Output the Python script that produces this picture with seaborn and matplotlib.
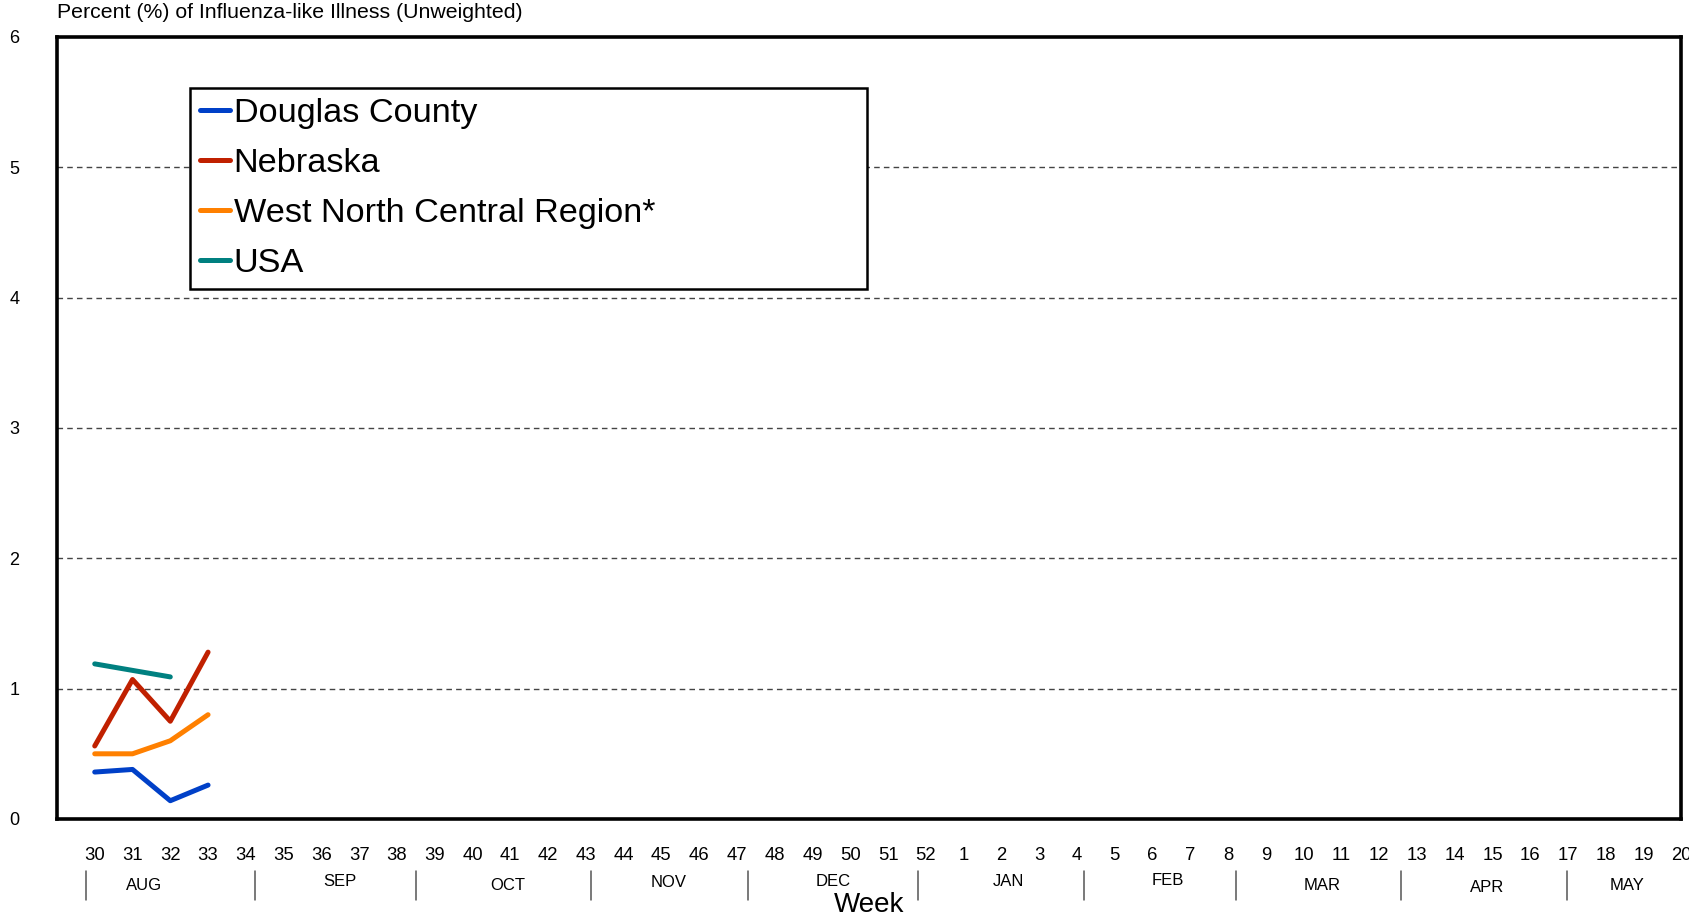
import numpy as np
import pandas as pd
import matplotlib
matplotlib.use("Agg")
import matplotlib.pyplot as plt
import matplotlib.transforms as mtransforms
from matplotlib.lines import Line2D
import seaborn as sns

# ---- data ----
weeks = [str(w) for w in list(range(30, 53)) + list(range(1, 21))]
data_weeks = ["30", "31", "32", "33"]
douglas = [0.36, 0.38, 0.14, 0.26]
nebraska = [0.56, 1.07, 0.75, 1.28]
wnc = [0.50, 0.50, 0.60, 0.80]
usa = [1.19, 1.14, 1.09, np.nan]
series_names = ["Douglas County", "Nebraska", "West North Central Region*", "USA"]
colors = ["#0040C8", "#C02000", "#FF8000", "#008080"]
months = ["AUG", "SEP", "OCT", "NOV", "DEC", "JAN", "FEB", "MAR", "APR", "MAY"]
yticks = [0, 1, 2, 3, 4, 5, 6]

# layout (positions of month labels / separators in week-index units)
month_label_x = [1.31, 6.49, 10.94, 15.2, 19.54, 24.2, 28.4, 32.5, 36.86, 40.57]
month_label_dy = [0.0, -4, 0.0, -3, -4, -4, -5, 0.0, 2, 0.0]
month_sep_x = [-0.23, 4.23, 8.5, 13.14, 17.3, 21.8, 26.2, 30.2, 34.57, 38.97]

sns.set_theme(style="white")
plt.rcParams["font.family"] = ["Liberation Sans", "DejaVu Sans"]
plt.rcParams["text.color"] = "black"
plt.rcParams["xtick.color"] = "black"
plt.rcParams["ytick.color"] = "black"
plt.rcParams["axes.labelcolor"] = "black"

rows = []
for name, vals in zip(series_names, [douglas, nebraska, wnc, usa]):
    for w, v in zip(data_weeks, vals):
        rows.append({"pos": weeks.index(w), "value": v, "series": name})
df = pd.DataFrame(rows)

fig = plt.figure(figsize=(16.9, 9.17), dpi=100)
ax = fig.add_axes([0.0337, 0.1069, 0.9612, 0.8528])

for y in yticks[1:-1]:
    ax.axhline(y, color="#444444", lw=1.0, ls=(0, (4, 3)), zorder=1)

sns.lineplot(data=df, x="pos", y="value", hue="series", hue_order=series_names,
             palette=dict(zip(series_names, colors)), linewidth=3.6, sort=False,
             ax=ax, zorder=3, legend=False)

ax.set_xlim(-1, len(weeks) - 1)
ax.set_ylim(0, 6)
ax.set_yticks(yticks)
ax.set_yticklabels([str(t) for t in yticks], fontsize=13)
ax.set_xticks(range(len(weeks)))
ax.set_xticklabels(weeks, fontsize=13.3)
ax.tick_params(axis="y", length=0, pad=27, labelcolor="black")
ax.tick_params(axis="x", length=0, pad=20.5, labelcolor="black")
ax.set_xlabel("")
ax.set_ylabel("")
for s in ax.spines.values():
    s.set_visible(True)
    s.set_color("black")
    s.set_linewidth(2.6)

# legend
handles = [Line2D([0], [0], color=c, lw=3.6) for c in colors]
leg = ax.legend(handles, series_names, loc="upper left",
                bbox_to_anchor=(0.082, 0.935, 0.4166, 0.0), mode="expand",
                borderaxespad=0, fontsize=24.7, frameon=True, fancybox=False,
                framealpha=1, edgecolor="black", handlelength=0.85,
                handletextpad=0.12, labelspacing=0.55, borderpad=0.3)
leg.get_frame().set_linewidth(1.8)
for t in leg.get_texts():
    t.set_color("black")
leg.set_zorder(5)

# month labels and separators
trans = mtransforms.blended_transform_factory(ax.transData, ax.transAxes)
H = 782.0
for m, x, dy in zip(months, month_label_x, month_label_dy):
    ax.text(x, -(886 - 819 + dy) / H, m, transform=trans, ha="center",
            va="center", fontsize=12, color="black")
for x in month_sep_x:
    ax.plot([x, x], [-(871 - 819) / H, -(900 - 819) / H], transform=trans,
            color="#555555", lw=1.1, clip_on=False)
ax.text(20.5, -(905 - 819) / H, "Week", transform=trans, ha="center",
        va="center", fontsize=20, color="black")

fig.text(57 / 1690, 1 - 12 / 917, "Percent (%) of Influenza-like Illness (Unweighted)",
         ha="left", va="center", fontsize=15.3, color="black")

fig.savefig("out.png", dpi=100)
